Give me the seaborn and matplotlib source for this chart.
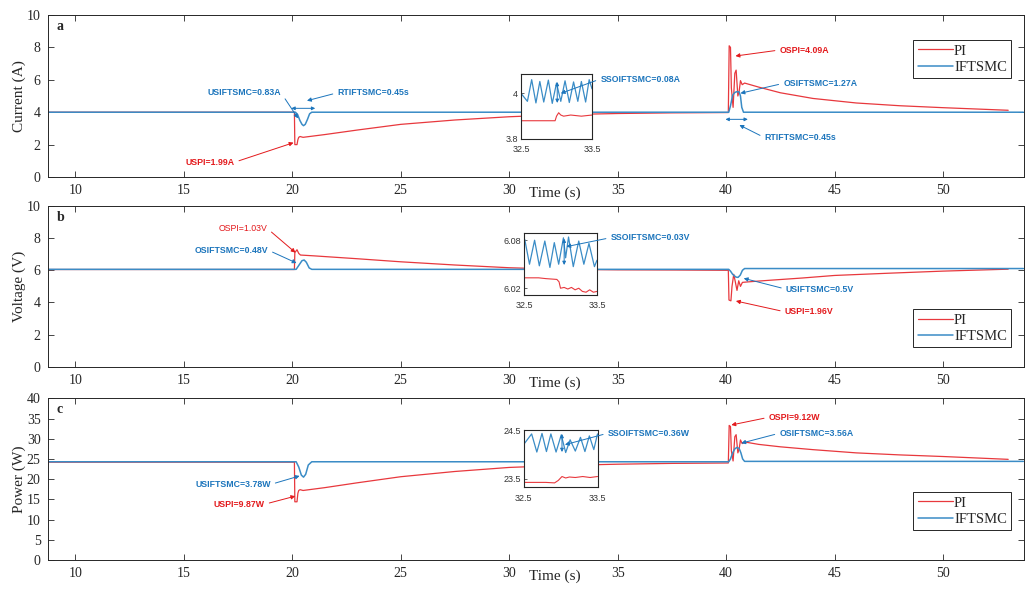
import matplotlib
matplotlib.use('Agg')
import matplotlib.pyplot as plt
import seaborn as sns

# ---------------- values ----------------
# panel a : current (A)
t_pi_a = [8.7, 20.10, 20.12, 20.22, 20.26, 20.30, 20.36, 20.5, 21.5, 23, 25, 27.5, 30, 32.5, 35, 37.5,
          40.10, 40.14, 40.20, 40.24, 40.32, 40.40, 40.46, 40.54, 40.60, 40.66, 40.74, 40.85,
          41.5, 42.5, 44, 46, 48, 50, 53.0]
cur_pi = [4.0, 4.0, 2.0, 2.0, 2.3, 2.45, 2.50, 2.45, 2.62, 2.9, 3.25, 3.52, 3.72, 3.85, 3.92, 3.96,
          3.98, 8.1, 8.0, 5.5, 4.3, 6.4, 6.6, 5.0, 5.3, 5.95, 5.7, 5.8,
          5.55, 5.2, 4.85, 4.57, 4.4, 4.28, 4.12]
t_if_a = [8.7, 20.15, 20.25, 20.35, 20.45, 20.52, 20.6, 20.7, 20.8, 20.9,
          40.12, 40.2, 40.3, 40.4, 40.5, 40.6, 40.66, 40.72, 40.8, 53.7]
cur_if = [4.0, 4.0, 3.85, 3.5, 3.25, 3.17, 3.25, 3.55, 3.9, 4.0,
          4.0, 4.4, 5.05, 5.22, 5.27, 5.25, 5.0, 4.3, 4.0, 4.0]

# panel b : voltage (V)
t_pi_b = [8.7, 20.10, 20.12, 20.22, 20.30, 20.38, 21, 23, 25, 27.5, 30, 32.5, 35, 37.5,
          40.10, 40.13, 40.22, 40.27, 40.35, 40.42, 40.50, 40.58, 40.66, 40.75,
          41.2, 42, 43.5, 45, 47.5, 50, 53.0]
volt_pi = [6.05, 6.05, 7.1, 7.28, 7.05, 6.95, 6.9, 6.72, 6.53, 6.33, 6.16, 6.06, 6.03, 6.02,
           6.0, 4.15, 4.1, 5.0, 5.75, 5.3, 4.75, 5.35, 5.0, 5.25,
           5.3, 5.38, 5.52, 5.68, 5.82, 5.95, 6.07]
t_if_b = [8.7, 20.18, 20.3, 20.45, 20.55, 20.65, 20.78, 20.9,
          40.12, 40.2, 40.3, 40.45, 40.55, 40.65, 40.75, 40.85, 53.7]
volt_if = [6.06, 6.06, 6.3, 6.6, 6.64, 6.5, 6.15, 6.06,
           6.06, 5.95, 5.75, 5.58, 5.56, 5.7, 6.0, 6.11, 6.11]

# panel c : power (W)
t_pi_c = t_pi_a
pow_pi = [24.2, 24.2, 14.4, 14.4, 16.5, 17.2, 17.4, 17.2, 17.9, 19.1, 20.6, 21.9, 22.9, 23.4, 23.7, 23.9,
          24.0, 33.3, 33.0, 27.0, 24.5, 30.5, 31.0, 26.5, 27.5, 29.7, 28.8, 29.2,
          28.6, 28.0, 27.3, 26.5, 26.0, 25.6, 24.9]
t_if_c = [8.7, 20.18, 20.3, 20.42, 20.52, 20.62, 20.74, 20.9,
          40.12, 40.2, 40.3, 40.4, 40.5, 40.6, 40.68, 40.76, 40.85, 53.7]
pow_if = [24.3, 24.3, 23.0, 21.0, 20.5, 21.2, 23.5, 24.3,
          24.3, 25.0, 26.5, 27.5, 27.86, 27.6, 26.5, 25.0, 24.4, 24.4]

# zoom windows 32.5 - 33.5 s
ti_if_a = [32.5, 32.59, 32.65, 32.71, 32.765, 32.82, 32.885, 32.94, 33.0, 33.06, 33.12, 33.18,
           33.24, 33.3, 33.35, 33.41, 33.46, 33.5]
zi_if_a = [4.0, 3.965, 4.06, 3.958, 4.052, 3.962, 4.058, 3.956, 4.045, 3.965, 4.055, 3.96,
           4.05, 3.965, 4.052, 3.962, 4.06, 4.02]
ti_pi_a = [32.5, 32.98, 33.0, 33.03, 33.06, 33.1, 33.2, 33.35, 33.5]
zi_pi_a = [3.88, 3.88, 3.90, 3.915, 3.905, 3.90, 3.905, 3.90, 3.905]

ti_if_b = [32.5, 32.51, 32.575, 32.645, 32.71, 32.785, 32.855, 32.915, 32.975, 33.04, 33.07, 33.11,
           33.175, 33.25, 33.32, 33.39, 33.465, 33.5]
zi_if_b = [6.075, 6.081, 6.050, 6.080, 6.048, 6.079, 6.046, 6.077, 6.050, 6.083, 6.058, 6.084,
           6.047, 6.079, 6.050, 6.076, 6.047, 6.055]
ti_pi_b = [32.5, 32.7, 32.8, 32.95, 32.98, 33.0, 33.05, 33.1, 33.15, 33.2, 33.25, 33.3, 33.35,
           33.4, 33.45, 33.5]
zi_pi_b = [6.033, 6.033, 6.032, 6.031, 6.028, 6.020, 6.021, 6.019, 6.021, 6.018, 6.020, 6.016,
           6.015, 6.018, 6.015, 6.016]

ti_if_c = [32.5, 32.61, 32.68, 32.75, 32.81, 32.87, 32.94, 33.01, 33.07, 33.13, 33.2, 33.27,
           33.33, 33.39, 33.45, 33.5]
zi_if_c = [24.2, 24.42, 24.05, 24.43, 24.06, 24.42, 24.05, 24.40, 24.04, 24.30, 24.07, 24.35,
           24.06, 24.38, 24.10, 24.42]
ti_pi_c = [32.5, 32.8, 32.92, 32.97, 33.02, 33.07, 33.12, 33.2, 33.3, 33.4, 33.5]
zi_pi_c = [23.43, 23.43, 23.42, 23.47, 23.55, 23.52, 23.54, 23.53, 23.55, 23.53, 23.55]

series_names = ['PI', 'IFTSMC']
x_ticks = [10, 15, 20, 25, 30, 35, 40, 45, 50]

# ---------------- style ----------------
sns.set_style('ticks')
plt.rcParams['font.family'] = ['Liberation Serif', 'DejaVu Serif']
plt.rcParams['axes.linewidth'] = 0.7
plt.rcParams['axes.edgecolor'] = '#262626'

RED = '#e8383d'
BLUE = '#3a8cc6'
TRED = '#e3191c'
TBLUE = '#1c75bc'
SANS = 'Liberation Sans'

fig = plt.figure(figsize=(10.35, 5.96), dpi=100)

L, W = 0.0459, 0.9435
main_pos = [[L, 0.7030, W, 0.2718], [L, 0.3847, W, 0.2696], [L, 0.0604, W, 0.2713]]
inset_pos = [[0.5034, 0.7668, 0.0686, 0.1091],
             [0.5063, 0.5050, 0.0705, 0.1040],
             [0.5058, 0.1824, 0.0715, 0.0961]]


def note(ax, txt, xy, xytext, color, right=False, bold=True, tc=None):
    """annotation with a filled arrow; the arrow leaves the text at its nearer end"""
    rel = (0, 0.5) if right else (1, 0.5)
    kw = {}
    if tc is not None:
        kw['textcoords'] = tc
    ax.annotate(txt, xy=xy, xytext=xytext, color=color, fontsize=6.3, family=SANS,
                weight='bold' if bold else 'normal', ha='left', va='center',
                arrowprops=dict(arrowstyle='-|>', color=color, lw=0.7, mutation_scale=6,
                                shrinkA=1, shrinkB=0, relpos=rel), **kw)


def double_arrow(ax, p0, p1, color=TBLUE):
    ax.annotate('', xy=p1, xytext=p0,
                arrowprops=dict(arrowstyle='<|-|>', color=color, lw=0.7, mutation_scale=5,
                                shrinkA=0, shrinkB=0))


def draw_panel(pos, t_pi, y_pi, t_if, y_if, ylim, yticks, ylabel, letter, leg_loc, leg_y):
    ax = fig.add_axes(pos)
    sns.lineplot(x=t_pi, y=y_pi, ax=ax, color=RED, lw=0.9, estimator=None, sort=False, label=series_names[0])
    sns.lineplot(x=t_if, y=y_if, ax=ax, color=BLUE, lw=1.1, estimator=None, sort=False, label=series_names[1])
    ax.set_xlim(8.72, 53.73)
    ax.set_ylim(*ylim)
    ax.set_xticks(x_ticks)
    ax.set_yticks(yticks)
    ax.tick_params(direction='in', top=True, right=True, length=4, width=0.6,
                   labelsize=10, pad=5, colors='#262626')
    ax.set_xlabel('Time (s)', fontsize=11)
    ax.xaxis.set_label_coords(0.52, -0.06)
    ax.set_ylabel(ylabel, fontsize=11)
    ax.yaxis.set_label_coords(-0.022, 0.5)
    ax.text(0.009, 0.93, letter, transform=ax.transAxes, fontsize=10, weight='bold', va='center')
    leg = ax.legend(loc=leg_loc, bbox_to_anchor=(0.987, leg_y), borderaxespad=0, fontsize=10.5,
                    frameon=True, fancybox=False, edgecolor='#262626', framealpha=1,
                    handlelength=2.4, handletextpad=0.1, labelspacing=0.2, borderpad=0.3)
    leg.get_frame().set_linewidth(0.7)
    return ax


def draw_inset(pos, ti_pi, zi_pi, ti_if, zi_if, ylim, yticks, ylabels):
    ins = fig.add_axes(pos)
    sns.lineplot(x=ti_pi, y=zi_pi, ax=ins, color=RED, lw=0.8, estimator=None, sort=False, legend=False)
    sns.lineplot(x=ti_if, y=zi_if, ax=ins, color=BLUE, lw=0.9, estimator=None, sort=False, legend=False)
    ins.set_xlim(32.5, 33.5)
    ins.set_ylim(*ylim)
    ins.set_xticks([32.5, 33.5])
    ins.set_xticklabels(['32.5', '33.5'])
    ins.set_yticks(yticks)
    ins.set_yticklabels(ylabels)
    ins.tick_params(direction='in', length=2.5, width=0.5, labelsize=6.5, labelcolor='#333333')
    ins.tick_params(axis='x', pad=4.5)
    ins.tick_params(axis='y', pad=2)
    for lab in ins.get_xticklabels() + ins.get_yticklabels():
        lab.set_family(SANS)
    for sp in ins.spines.values():
        sp.set_linewidth(0.8)
    ins.set_xlabel('')
    ins.set_ylabel('')
    return ins


# ---------------- panel a ----------------
ax_a = draw_panel(main_pos[0], t_pi_a, cur_pi, t_if_a, cur_if, (0, 10), [0, 2, 4, 6, 8, 10],
                  'Current (A)', 'a', 'upper right', 0.846)
in_a = draw_inset(inset_pos[0], ti_pi_a, zi_pi_a, ti_if_a, zi_if_a, (3.8, 4.085), [3.8, 4], ['3.8', '4'])

note(ax_a, 'USIFTSMC=0.83A', (20.27, 3.62), (16.09, 5.2), TBLUE)
note(ax_a, 'RTIFTSMC=0.45s', (20.68, 4.71), (22.08, 5.2), TBLUE, right=True)
double_arrow(ax_a, (19.96, 4.24), (21.06, 4.24))
note(ax_a, 'USPI=1.99A', (20.06, 2.12), (15.07, 0.91), TRED)
note(ax_a, 'OSPI=4.09A', (40.43, 7.47), (42.46, 7.84), TRED, right=True)
note(ax_a, 'OSIFTSMC=1.27A', (40.66, 5.17), (42.63, 5.78), TBLUE, right=True)
double_arrow(ax_a, (39.97, 3.56), (41.0, 3.56))
note(ax_a, 'RTIFTSMC=0.45s', (40.61, 3.21), (41.77, 2.43), TBLUE, right=True)
double_arrow(in_a, (33.01, 3.958), (33.01, 4.05))
note(in_a, 'SSOIFTSMC=0.08A', (33.06, 4.0), (34.2, 6.05), TBLUE, right=True, tc=ax_a.transData)

# ---------------- panel b ----------------
ax_b = draw_panel(main_pos[1], t_pi_b, volt_pi, t_if_b, volt_if, (0, 10), [0, 2, 4, 6, 8, 10],
                  'Voltage (V)', 'b', 'lower right', 0.121)
in_b = draw_inset(inset_pos[1], ti_pi_b, zi_pi_b, ti_if_b, zi_if_b, (6.0115, 6.089), [6.02, 6.08],
                  ['6.02', '6.08'])

note(ax_b, 'OSPI=1.03V', (20.15, 7.1), (16.59, 8.61), TRED, bold=False)
note(ax_b, 'OSIFTSMC=0.48V', (20.2, 6.45), (15.49, 7.26), TBLUE)
note(ax_b, 'USIFTSMC=0.5V', (40.81, 5.5), (42.75, 4.83), TBLUE, right=True)
note(ax_b, 'USPI=1.96V', (40.45, 4.09), (42.7, 3.42), TRED, right=True)
double_arrow(in_b, (33.05, 6.049), (33.05, 6.082))
note(in_b, 'SSOIFTSMC=0.03V', (33.08, 6.072), (34.67, 8.03), TBLUE, right=True, tc=ax_b.transData)

# ---------------- panel c ----------------
ax_c = draw_panel(main_pos[2], t_pi_c, pow_pi, t_if_c, pow_if, (0, 40), list(range(0, 41, 5)),
                  'Power (W)', 'c', 'lower right', 0.185)
in_c = draw_inset(inset_pos[2], ti_pi_c, zi_pi_c, ti_if_c, zi_if_c, (23.33, 24.5), [23.5, 24.5],
                  ['23.5', '24.5'])

note(ax_c, 'USIFTSMC=3.78W', (20.34, 20.8), (15.53, 18.7), TBLUE)
note(ax_c, 'USPI=9.87W', (20.14, 15.8), (16.38, 13.8), TRED)
note(ax_c, 'OSPI=9.12W', (40.24, 33.4), (41.96, 35.3), TRED, right=True)
note(ax_c, 'OSIFTSMC=3.56A', (40.7, 28.9), (42.45, 31.36), TBLUE, right=True)
double_arrow(in_c, (33.02, 24.05), (33.02, 24.42))
note(in_c, 'SSOIFTSMC=0.36W', (33.06, 24.2), (34.54, 31.36), TBLUE, right=True, tc=ax_c.transData)

fig.savefig('out.png', dpi=100)
